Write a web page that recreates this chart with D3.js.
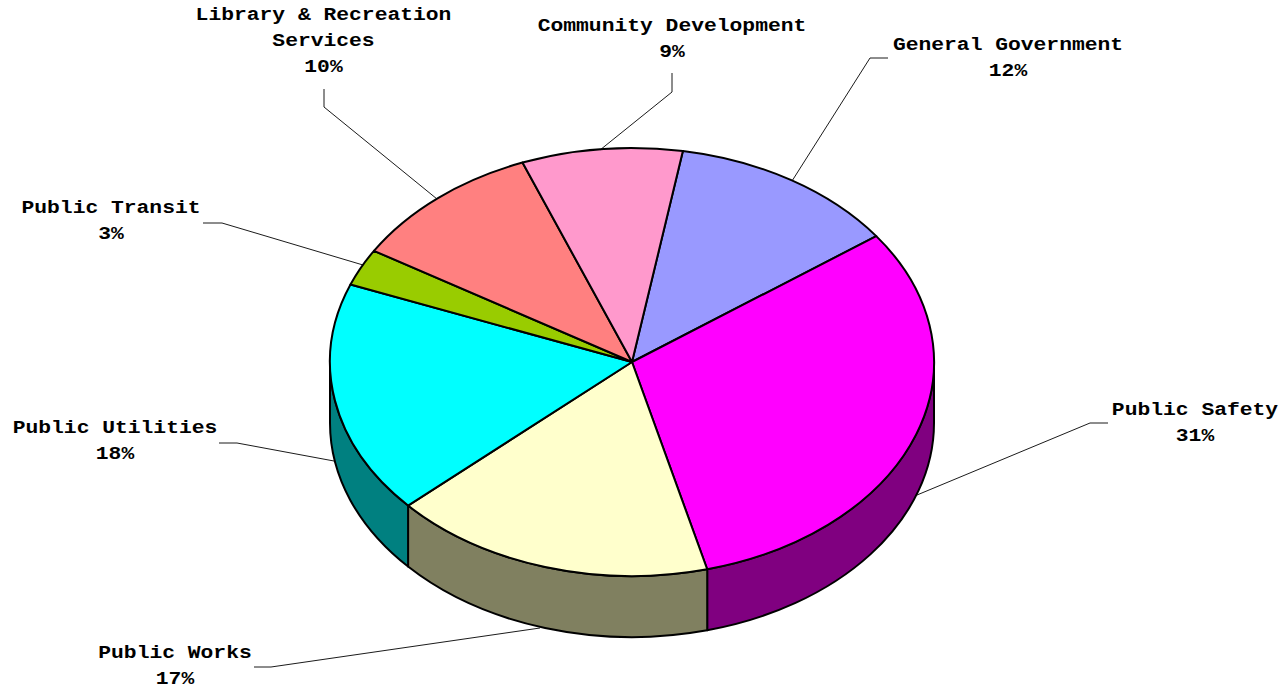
<!DOCTYPE html>
<html>
<head>
<meta charset="utf-8">
<script src="https://cdn.jsdelivr.net/npm/d3@7/dist/d3.min.js"></script>
<style>
html,body{margin:0;padding:0;background:#fff;}
svg{display:block;}
text{font-family:"Liberation Mono",monospace;font-weight:bold;font-size:18px;fill:#000;text-anchor:middle;}
</style>
</head>
<body>
<svg id="chart" width="1283" height="690"></svg>
<script>
// Budget shares in percent, clockwise from the top of the disc
const categories = ["General Government","Public Safety","Public Works","Public Utilities","Public Transit","Library & Recreation Services","Community Development"];
const shares = [12.3,31.0,17.3,17.6,2.8,10.4,8.6];
const topColors = ["#9999ff","#ff00ff","#ffffcc","#00ffff","#99cc00","#ff8080","#ff99cc"];
const sideColors = ["#4c4c80","#800080","#808060","#008080","#4c6600","#804040","#804c66"];
const labelLines = [["General Government"],["Public Safety"],["Public Works"],["Public Utilities"],["Public Transit"],["Library & Recreation","Services"],["Community Development"]];
// Label centre (x, first line y) and leader polyline for each slice
const labelAnchors = [[1008,50],[1195,415],[175,658],[115,433],[111,213],[323.5,20],[672,31]];
const leaderPaths = [
  [[792,181],[870,58],[888,58]],
  [[917,495],[1090,423],[1108,423]],
  [[540,628],[271,667],[254,667]],
  [[334,461],[237,443],[219,443]],
  [[363,265],[222,223],[203,223]],
  [[437,199],[324,107],[324,89]],
  [[600,150],[672,92],[672,73]]
];

const cx = 632, cy = 362, rx = 302, ry = 214, depth = 61;
const glyphStretch = 1.185;
const svg = d3.select("#chart");
const startAngle = 9.7 * Math.PI / 180;
const arcs = d3.pie().sort(null).value(d => d).startAngle(startAngle).endAngle(startAngle + 2 * Math.PI)(shares);

// Point on the ellipse; angles run clockwise from twelve o'clock
const px = a => cx + rx * Math.sin(a);
const py = (a, dy = 0) => cy - ry * Math.cos(a) + dy;

// Rim wall of one slice, clipped to the front half of the ellipse
function wallPath(a0, a1) {
  const lo = Math.max(a0, Math.PI / 2), hi = Math.min(a1, 3 * Math.PI / 2);
  if (hi <= lo) return null;
  return `M${px(lo)},${py(lo)}A${rx},${ry} 0 0 1 ${px(hi)},${py(hi)}` +
         `L${px(hi)},${py(hi, depth)}A${rx},${ry} 0 0 0 ${px(lo)},${py(lo, depth)}Z`;
}
function topPath(a0, a1) {
  const large = a1 - a0 > Math.PI ? 1 : 0;
  return `M${cx},${cy}L${px(a0)},${py(a0)}A${rx},${ry} 0 ${large} 1 ${px(a1)},${py(a1)}Z`;
}

const outline = 2;

svg.append("g").selectAll("path")
  .data(arcs.map((d, i) => ({d: wallPath(d.startAngle, d.endAngle), c: sideColors[i]})).filter(w => w.d))
  .join("path")
  .attr("d", w => w.d).attr("fill", w => w.c)
  .attr("stroke", "#000").attr("stroke-width", outline).attr("stroke-linejoin", "round");

svg.append("g").selectAll("path")
  .data(arcs)
  .join("path")
  .attr("d", d => topPath(d.startAngle, d.endAngle))
  .attr("fill", (d, i) => topColors[i])
  .attr("stroke", "#000").attr("stroke-width", outline).attr("stroke-linejoin", "round");

// Leader lines from the rim out to each label
svg.append("g").selectAll("path")
  .data(leaderPaths)
  .join("path")
  .attr("d", d3.line())
  .attr("fill", "none").attr("stroke", "#000").attr("stroke-width", 0.9);

// Category name lines with the rounded share beneath them
const labels = svg.append("g").selectAll("text")
  .data(categories)
  .join("text")
  .attr("transform", (d, i) => `translate(${labelAnchors[i][0]},${labelAnchors[i][1]}) scale(${glyphStretch},1)`);
labels.each(function(d, i) {
  const t = d3.select(this);
  labelLines[i].concat(Math.round(shares[i]) + "%").forEach((line, k) => {
    t.append("tspan").attr("x", 0).attr("y", k * 26).text(line);
  });
});
</script>
</body>
</html>
